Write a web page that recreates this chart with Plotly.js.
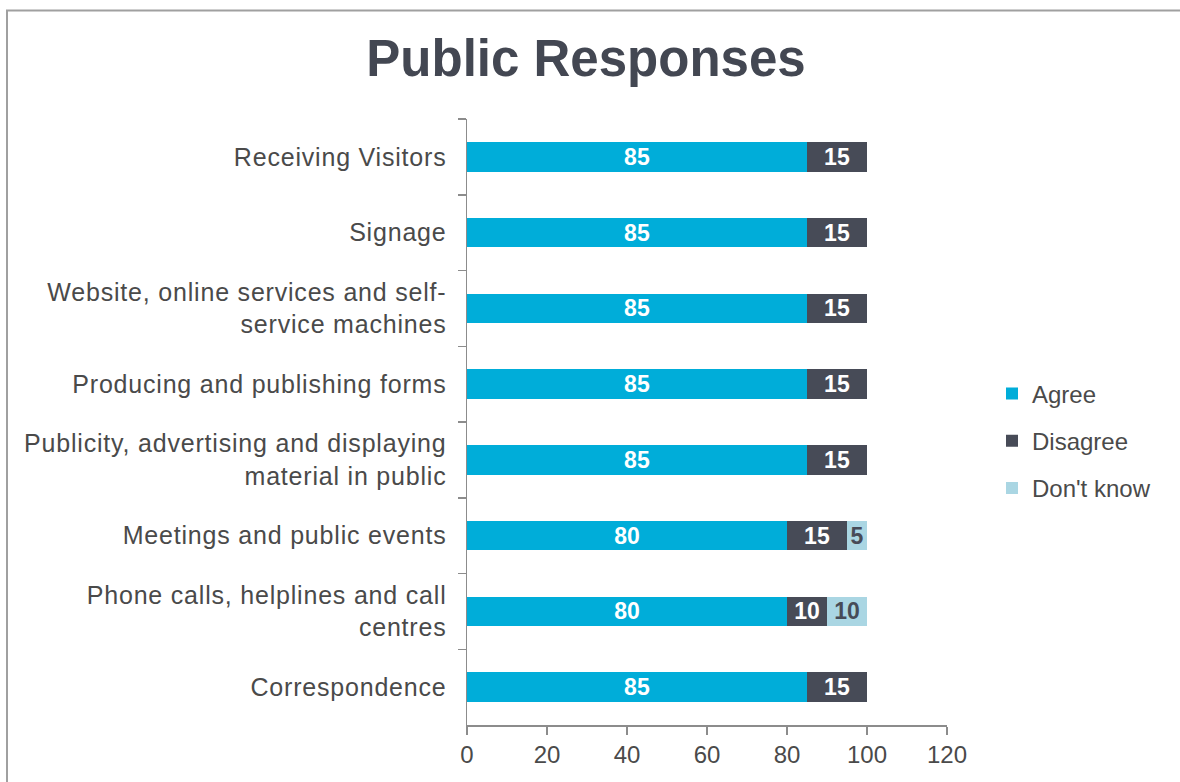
<!DOCTYPE html>
<html>
<head>
<meta charset="utf-8">
<script src="https://cdn.plot.ly/plotly-3.0.1.min.js"></script>
<style>
  html, body { margin: 0; padding: 0; background: #ffffff; overflow: hidden; }
  #chart { width: 1180px; height: 782px; }
  #chart .ytick text { letter-spacing: 0.8px; }
</style>
</head>
<body>
<div id="chart"></div>
<script>
// Categories, top to bottom as shown
const categories = [
  "Receiving Visitors",
  "Signage",
  "Website, online services and self-<br>service machines",
  "Producing and publishing forms",
  "Publicity, advertising and displaying<br>material in public",
  "Meetings and public events",
  "Phone calls, helplines and call<br>centres",
  "Correspondence"
];
const agree     = [85, 85, 85, 85, 85, 80, 80, 85];
const disagree  = [15, 15, 15, 15, 15, 15, 10, 15];
const dontKnow  = [0, 0, 0, 0, 0, 5, 10, 0];
const seriesNames = ["Agree", "Disagree", "Don't know"];
const xTicks = [0, 20, 40, 60, 80, 100, 120];

const colors = ["#00ADD9", "#474B57", "#AAD6E3"];
const textColors = ["#ffffff", "#ffffff", "#474B57"];
const seriesValues = [agree, disagree, dontKnow];

const traces = seriesValues.map((vals, i) => ({
  type: "bar",
  orientation: "h",
  name: seriesNames[i],
  legendgroup: "g" + i,
  y: categories,
  x: vals,
  marker: { color: colors[i], line: { width: 0 } },
  text: vals.map(v => v > 0 ? String(v) : ""),
  textposition: "inside",
  insidetextanchor: "middle",
  textangle: 0,
  constraintext: "none",
  textfont: { family: "Liberation Sans, Arial, sans-serif", size: 23, color: textColors[i], weight: "bold" },
  hoverinfo: "skip",
  cliponaxis: false,
  width: 0.39
}));

// plot area geometry (pixels) for the border shape
const L = 467, R = 233, T = 119, B = 57;
const PW = 1180 - L - R, PH = 782 - T - B;
const px = v => (v - L) / PW;
const py = v => 1 - (v - T) / PH;

const layout = {
  width: 1180,
  height: 782,
  barmode: "stack",
  bargap: 0.61,
  paper_bgcolor: "#ffffff",
  plot_bgcolor: "#ffffff",
  margin: { l: L, r: R, t: T, b: B, pad: 0 },
  font: { family: "Liberation Sans, Arial, sans-serif", color: "#4a4a4a" },
  uniformtext: { mode: "show", minsize: 23 },
  title: {
    text: "<b>Public Responses</b>",
    font: { family: "Liberation Sans, Arial, sans-serif", size: 51, color: "#434752" },
    x: 586 / 1180, xref: "container", xanchor: "center",
    y: 0.948, yref: "container", yanchor: "top"
  },
  xaxis: {
    range: [0, 120],
    tickvals: xTicks,
    ticktext: xTicks.map(String),
    showgrid: false,
    zeroline: false,
    showline: true,
    linecolor: "#8c8c8c",
    linewidth: 1.5,
    ticks: "outside",
    ticklen: 8,
    tickcolor: "#8c8c8c",
    tickwidth: 1.5,
    tickfont: { size: 24, color: "#4a4a4a" },
    fixedrange: true
  },
  yaxis: {
    type: "category",
    autorange: "reversed",
    showgrid: false,
    zeroline: false,
    showline: true,
    linecolor: "#8c8c8c",
    linewidth: 1.5,
    ticks: "outside",
    tickson: "boundaries",
    ticklen: 8,
    tickcolor: "#8c8c8c",
    tickwidth: 1.5,
    ticklabelstandoff: 14,
    tickfont: { size: 25, color: "#4a4a4a" },
    fixedrange: true
  },
  legend: {
    x: px(992), xanchor: "left",
    y: py(441), yanchor: "middle",
    font: { size: 24, color: "#4a4a4a" },
    tracegroupgap: 13,
    itemwidth: 30,
    bgcolor: "rgba(0,0,0,0)"
  },
  showlegend: true,
  shapes: [{
    type: "rect",
    xref: "paper", yref: "paper",
    x0: px(7), x1: px(1200),
    y0: py(800), y1: py(10.5),
    line: { color: "#a0a0a0", width: 2 },
    fillcolor: "rgba(0,0,0,0)",
    layer: "below"
  }]
};

Plotly.newPlot("chart", traces, layout, { displayModeBar: false, staticPlot: true });
</script>
</body>
</html>
